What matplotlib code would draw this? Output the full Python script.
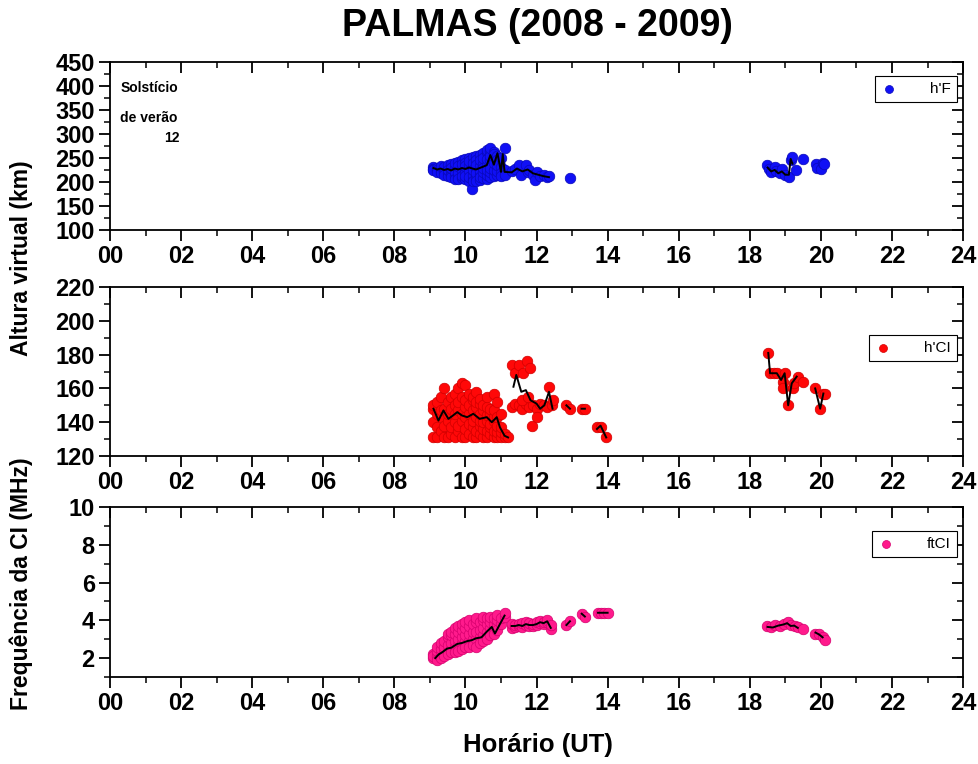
import matplotlib
matplotlib.use("Agg")
import matplotlib.pyplot as plt
from matplotlib.ticker import MultipleLocator, FuncFormatter
import numpy as np

plt.rcParams.update({"font.family": ["Liberation Sans", "DejaVu Sans"], "font.weight": "bold"})

# ---------- h'F (km): pontos individuais ----------
hf_hora = [9.1, 9.1, 9.1,
           9.2, 9.2, 9.2,
           9.3, 9.3, 9.3, 9.3,
           9.4, 9.4, 9.4, 9.4,
           9.5, 9.5, 9.5, 9.5, 9.5,
           9.6, 9.6, 9.6, 9.6, 9.6,
           9.7, 9.7, 9.7, 9.7, 9.7,
           9.8, 9.8, 9.8, 9.8, 9.8, 9.8,
           9.9, 9.9, 9.9, 9.9, 9.9, 9.9,
           10.0, 10.0, 10.0, 10.0, 10.0, 10.0, 10.0,
           10.1, 10.1, 10.1, 10.1, 10.1, 10.1, 10.18,
           10.2, 10.2, 10.2, 10.2, 10.2, 10.2, 10.2,
           10.3, 10.3, 10.3, 10.3, 10.3, 10.3, 10.3,
           10.4, 10.4, 10.4, 10.4, 10.4, 10.4, 10.4,
           10.5, 10.5, 10.5, 10.5, 10.5, 10.5,
           10.6, 10.6, 10.6, 10.6, 10.6, 10.6, 10.6,
           10.7, 10.7, 10.7, 10.7, 10.7, 10.7, 10.7,
           10.8, 10.8, 10.8, 10.8, 10.8, 10.8,
           10.9, 10.9, 10.9, 10.9, 10.9,
           11.0, 11.0, 11.0, 11.0,
           11.1, 11.1, 11.1,
           11.3, 11.4, 11.5, 11.55, 11.7, 11.75, 11.8, 11.9, 11.95, 12.0, 12.1, 12.2, 12.3, 12.35,
           12.94,
           18.48, 18.55, 18.6, 18.7, 18.75, 18.85, 18.9, 19.0, 19.1, 19.15, 19.2, 19.3, 19.5,
           19.85, 19.9, 20.0, 20.05, 20.1]
hf_valor = [232, 228, 225,
            230, 224, 220,
            229, 222, 218, 233,
            226, 220, 231, 215,
            228, 218, 235, 212, 224,
            225, 215, 237, 210, 230,
            230, 212, 240, 220, 207,
            226, 210, 242, 218, 234, 206,
            232, 208, 245, 222, 238, 213,
            228, 207, 248, 218, 240, 212, 233,
            235, 203, 250, 222, 244, 210, 185,
            230, 205, 252, 215, 240, 225, 201,
            226, 208, 255, 218, 245, 235, 202,
            233, 205, 257, 215, 245, 222, 210,
            238, 208, 260, 220, 250, 230,
            235, 206, 262, 215, 248, 225, 266,
            245, 210, 265, 220, 255, 230, 270,
            250, 212, 262, 225, 240, 258,
            255, 215, 245, 222, 235,
            232, 218, 250, 212,
            270, 225, 215,
            222, 228, 235, 215, 236, 220, 225, 215, 205, 220, 212, 215, 210, 212,
            208,
            235, 228, 220, 232, 222, 218, 228, 215, 210, 245, 252, 225, 248,
            238, 230, 228, 240, 237]
# média (linha preta)
hf_media_hora = [9.1, 9.2, 9.3, 9.4, 9.5, 9.6, 9.7, 9.8, 9.9, 10.0, 10.1, 10.2, 10.3, 10.4,
                 10.5, 10.6, 10.7, 10.8, 10.9, 11.0, 11.05, 11.1,
                 11.3, 11.45, 11.6, 11.75, 11.9, 12.05, 12.2, 12.35, np.nan,
                 18.5, 18.6, 18.7, 18.8, 18.9, 19.0, 19.1, 19.15, 19.2]
hf_media = [229, 226, 228, 225, 227, 224, 228, 226, 229, 227, 230, 228, 226, 229,
            232, 235, 256, 236, 260, 221, 258, 221,
            220, 228, 222, 226, 218, 215, 212, 210, np.nan,
            230, 222, 225, 218, 222, 215, 215, 248, 238]

# ---------- h'CI (km) ----------
hci_hora = [9.1, 9.1, 9.1, 9.1,
            9.2, 9.2, 9.2, 9.2,
            9.3, 9.3, 9.3, 9.3,
            9.4, 9.4, 9.4, 9.4,
            9.5, 9.5, 9.5, 9.5,
            9.6, 9.6, 9.6, 9.6,
            9.7, 9.7, 9.7, 9.7, 9.7,
            9.8, 9.8, 9.8, 9.8, 9.8,
            9.9, 9.9, 9.9, 9.9, 9.9,
            10.0, 10.0, 10.0, 10.0, 10.0, 10.0,
            10.1, 10.1, 10.1, 10.1, 10.1,
            10.2, 10.2, 10.2, 10.2, 10.2, 10.2,
            10.3, 10.3, 10.3, 10.3, 10.3, 10.3,
            10.4, 10.4, 10.4, 10.4, 10.4, 10.4,
            10.5, 10.5, 10.5, 10.5, 10.5,
            10.6, 10.6, 10.6, 10.6, 10.6, 10.6,
            10.7, 10.7, 10.7, 10.7, 10.7,
            10.8, 10.8, 10.8, 10.8, 10.8, 10.8,
            10.9, 10.9, 10.9, 10.9, 10.9,
            11.0, 11.0, 11.0, 11.0,
            11.1, 11.1, 11.2,
            11.3, 11.38, 11.5, 11.63, 11.73, 11.83,
            11.3, 11.4, 11.5, 11.6, 11.7, 11.8, 11.9, 12.0, 12.1, 12.2, 12.3, 12.43,
            11.87, 12.0, 12.35, 12.45, 11.6, 11.75,
            12.84, 12.94, 13.27, 13.36, 13.7, 13.8, 13.96,
            18.52, 18.57, 18.68, 18.76, 18.98, 18.93, 18.93, 19.08, 19.22, 19.25, 19.35, 19.5,
            19.84, 19.98, 20.07, 20.12]
hci_valor = [131, 140, 148, 150,
             131, 137, 145, 152,
             135, 143, 147, 155,
             131, 138, 148, 160,
             131, 141, 145, 152,
             133, 137, 148, 155,
             131, 140, 145, 150, 157,
             135, 138, 147, 152, 160,
             131, 141, 145, 155, 163,
             131, 136, 143, 149, 153, 162,
             133, 139, 145, 150, 157,
             131, 137, 141, 147, 153, 155,
             131, 135, 143, 149, 152, 158,
             133, 138, 141, 145, 151, 154,
             131, 136, 140, 147, 150,
             131, 135, 141, 144, 149, 155,
             133, 137, 139, 145, 148,
             131, 135, 141, 143, 147, 157,
             131, 134, 138, 143, 152,
             131, 134, 137, 145,
             131, 133, 131,
             174, 169, 174, 169, 176, 172,
             149, 151, 150, 148, 151, 149, 150, 148, 151, 150, 149, 150,
             138, 143, 161, 153, 153, 155,
             150, 148, 148, 148, 137, 137, 131,
             181, 169, 169, 169, 169, 164, 160, 150, 160, 163, 167, 164,
             160, 148, 157, 157]
hci_media_hora = [9.1, 9.24, 9.38, 9.52, 9.65, 9.77, 9.9, 10.05, 10.22, 10.4, 10.6, 10.74,
                  10.88, 10.97, 11.1, 11.2, np.nan,
                  11.35, 11.43, 11.57, 11.7, 11.83, 12.0, 12.1, 12.22, 12.35, 12.45, np.nan,
                  12.84, 12.94, np.nan, 13.27, 13.36, np.nan, 13.7, 13.8, 13.96, np.nan,
                  18.52, 18.57, 18.76, 18.88, 18.98, 19.08, 19.18, 19.32, np.nan,
                  19.84, 19.98, 20.07]
hci_media = [148, 141, 147, 142, 144, 146, 144, 143, 145, 142, 143, 140,
             143, 137, 132, 131, np.nan,
             161, 168, 158, 159, 153, 151, 148, 150, 158, 148, np.nan,
             150, 148, np.nan, 148, 148, np.nan, 136, 138, 131, np.nan,
             181, 169, 169, 165, 169, 150, 163, 167, np.nan,
             160, 148, 157]

# ---------- ftCI (MHz) ----------
ft_hora = [9.1, 9.1, 9.1,
           9.2, 9.2, 9.2, 9.2,
           9.3, 9.3, 9.3, 9.3,
           9.4, 9.4, 9.4, 9.4,
           9.5, 9.5, 9.5, 9.5, 9.5,
           9.6, 9.6, 9.6, 9.6, 9.6,
           9.7, 9.7, 9.7, 9.7, 9.7,
           9.8, 9.8, 9.8, 9.8, 9.8,
           9.9, 9.9, 9.9, 9.9, 9.9,
           10.0, 10.0, 10.0, 10.0, 10.0,
           10.1, 10.1, 10.1, 10.1, 10.1,
           10.2, 10.2, 10.2, 10.2,
           10.3, 10.3, 10.3, 10.3, 10.3,
           10.4, 10.4, 10.4, 10.4,
           10.5, 10.5, 10.5, 10.5, 10.5,
           10.6, 10.6, 10.6, 10.6,
           10.7, 10.7, 10.7, 10.7,
           10.8, 10.8, 10.8, 10.8,
           10.9, 10.9, 10.9, 10.9,
           11.0, 11.0,
           11.1, 11.1,
           11.3, 11.3, 11.4, 11.4, 11.5, 11.5, 11.6, 11.6, 11.7, 11.7, 11.8, 11.8,
           11.9, 11.9, 12.0, 12.0, 12.1, 12.1, 12.2, 12.2, 12.3, 12.3, 12.4, 12.4,
           12.84, 12.94, 13.27, 13.36, 13.73, 13.8, 13.9, 14.0,
           18.48, 18.6, 18.7, 18.85, 18.95, 19.07, 19.15, 19.27, 19.35, 19.5,
           19.84, 19.95, 20.05, 20.12]
ft_valor = [2.0, 2.2, 2.1,
            2.1, 2.4, 2.6, 1.9,
            2.2, 2.5, 2.8, 2.0,
            2.3, 2.6, 2.9, 2.1,
            2.4, 2.7, 3.1, 2.2, 3.3,
            2.5, 2.8, 3.2, 2.3, 3.4,
            2.6, 2.9, 3.3, 2.3, 3.6,
            2.7, 3.0, 3.4, 2.4, 3.7,
            2.8, 3.1, 3.5, 2.5, 3.8,
            2.9, 3.2, 3.6, 2.6, 3.9,
            2.9, 3.3, 3.7, 2.6, 4.0,
            3.0, 3.4, 3.8, 2.7,
            3.0, 3.4, 3.9, 2.6, 4.1,
            3.1, 3.5, 3.9, 2.8,
            3.2, 3.6, 4.0, 2.9, 4.2,
            3.4, 3.8, 4.1, 3.0,
            3.6, 3.9, 4.2, 3.2,
            3.4, 3.8, 4.1, 3.3,
            3.7, 4.0, 4.3, 3.5,
            3.8, 4.1,
            4.2, 4.4,
            3.6, 3.8, 3.65, 3.75, 3.7, 3.8, 3.65, 3.85, 3.75, 3.9, 3.7, 3.85,
            3.7, 3.8, 3.75, 3.9, 3.85, 3.95, 3.8, 3.9, 3.9, 4.0, 3.55, 3.75,
            3.75, 3.95, 4.35, 4.2, 4.4, 4.4, 4.4, 4.4,
            3.7, 3.65, 3.75, 3.7, 3.8, 3.9, 3.75, 3.7, 3.65, 3.55,
            3.3, 3.25, 3.1, 2.95]
ft_media_hora = [9.15, 9.25, 9.34, 9.48, 9.6, 9.77, 9.9, 10.05, 10.18, 10.3, 10.45, 10.6,
                 10.74, 10.83, 10.97, 11.1, np.nan,
                 11.3, 11.4, 11.5, 11.6, 11.7, 11.8, 11.9, 12.0, 12.1, 12.2, 12.3, 12.4, np.nan,
                 12.84, 12.94, np.nan, 13.27, 13.36, np.nan, 13.73, 13.8, 13.9, 14.0, np.nan,
                 18.5, 18.65, 18.8, 18.95, 19.05, 19.15, 19.25, 19.35, np.nan,
                 19.85, 19.95, 20.05]
ft_media = [2.0, 2.2, 2.3, 2.5, 2.55, 2.75, 2.8, 2.9, 2.95, 3.05, 3.1, 3.4,
            3.65, 3.3, 3.8, 4.25, np.nan,
            3.7, 3.7, 3.75, 3.7, 3.8, 3.75, 3.75, 3.8, 3.9, 3.85, 3.95, 3.6, np.nan,
            3.75, 3.95, np.nan, 4.35, 4.2, np.nan, 4.4, 4.4, 4.4, 4.4, np.nan,
            3.65, 3.62, 3.72, 3.78, 3.85, 3.7, 3.72, 3.6, np.nan,
            3.35, 3.25, 3.1]

fig = plt.figure(figsize=(9.79, 7.64), dpi=100)
L, W = 0.1124, 0.8713
ax1 = fig.add_axes([L, 0.699, W, 0.2199])
ax2 = fig.add_axes([L, 0.4031, W, 0.2212])
ax3 = fig.add_axes([L, 0.1139, W, 0.2225])

paineis = [
    (ax1, hf_hora, hf_valor, hf_media_hora, hf_media, "#1010f5", "#0808b8", "h'F",
     (100, 450), 50, 25, (0.993, 0.917)),
    (ax2, hci_hora, hci_valor, hci_media_hora, hci_media, "#ff0808", "#d00000", "h'CI",
     (120, 220), 20, 10, (0.993, 0.716)),
    (ax3, ft_hora, ft_valor, ft_media_hora, ft_media, "#ff1a8c", "#d6006e", "ftCI",
     (1, 10), 2, 1, (0.993, 0.859)),
]

for ax, th, v, mh, m, cor, borda, rot, ylim, ymaj, ymin, leg in paineis:
    ax.scatter(th, v, s=58, color=cor, edgecolors=borda, linewidths=0.5, zorder=3, label=rot)
    ax.plot(mh, m, color="black", lw=1.4, zorder=4)
    ax.set_xlim(0, 24)
    ax.set_ylim(*ylim)
    ax.xaxis.set_major_locator(MultipleLocator(2))
    ax.xaxis.set_minor_locator(MultipleLocator(1))
    ax.yaxis.set_major_locator(MultipleLocator(ymaj))
    ax.yaxis.set_minor_locator(MultipleLocator(ymin))
    ax.xaxis.set_major_formatter(FuncFormatter(lambda x, p: f"{int(x):02d}"))
    ax.tick_params(axis="both", which="major", labelsize=17, width=1.3, length=8,
                   direction="out", pad=3)
    ax.tick_params(axis="both", which="minor", width=1.1, length=4, direction="out")
    ax.tick_params(which="both", top=True, right=True)
    for s in ax.spines.values():
        s.set_linewidth(1.3)
    # ticks do topo e da direita voltados para dentro
    for t in ax.xaxis.get_major_ticks() + ax.xaxis.get_minor_ticks():
        t.tick2line.set_marker(3)
    for t in ax.yaxis.get_major_ticks() + ax.yaxis.get_minor_ticks():
        t.tick2line.set_marker(0)
    for lbl in ax.get_xticklabels() + ax.get_yticklabels():
        lbl.set_fontweight("bold")
    lg = ax.legend(loc="upper right", bbox_to_anchor=leg, borderaxespad=0, frameon=True,
                   fancybox=False, edgecolor="black", framealpha=1, handletextpad=2.2,
                   borderpad=0.4, handlelength=1.0, scatterpoints=1, markerscale=0.75,
                   prop={"weight": "normal", "size": 11})
    lg.get_frame().set_linewidth(0.8)

ax3.set_yticks([2, 4, 6, 8, 10])

ax1.text(0.012, 0.845, "Solstício", transform=ax1.transAxes, fontsize=10, fontweight="bold", va="center")
ax1.text(0.012, 0.667, "de verão", transform=ax1.transAxes, fontsize=10, fontweight="bold", va="center")
ax1.text(0.073, 0.548, "12", transform=ax1.transAxes, fontsize=10, fontweight="bold", va="center", ha="center")

fig.text(0.549, 1 - 26 / 764, "PALMAS (2008 - 2009)", ha="center", va="center", fontsize=27, fontweight="bold")
fig.text(0.022, 1 - 258 / 764, "Altura virtual (km)", rotation=90, ha="center", va="center",
         fontsize=16.5, fontweight="bold")
fig.text(0.022, 1 - 584 / 764, "Frequência da CI (MHz)", rotation=90, ha="center", va="center",
         fontsize=16.5, fontweight="bold")
fig.text(0.549, 1 - 745 / 764, "Horário (UT)", ha="center", va="center", fontsize=18.5, fontweight="bold")

fig.savefig("out.png", dpi=100)
